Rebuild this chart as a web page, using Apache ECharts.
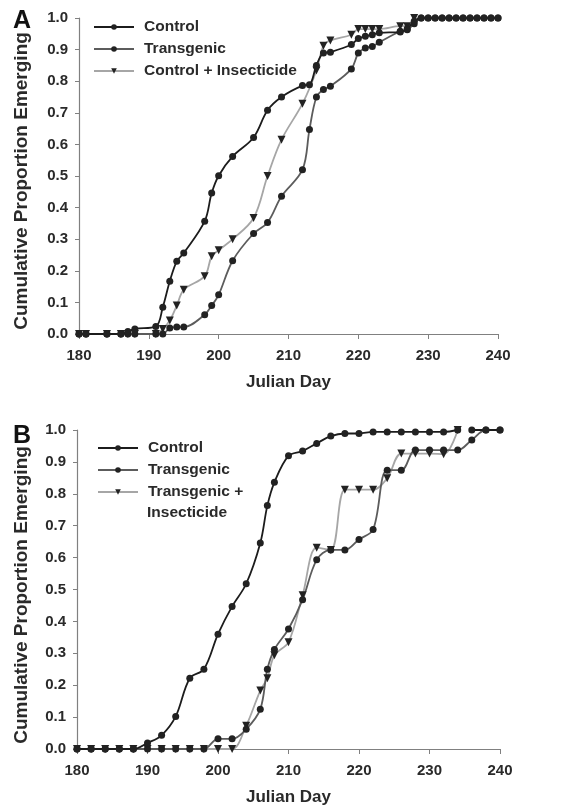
<!DOCTYPE html>
<html>
<head>
<meta charset="utf-8">
<script src="https://cdn.jsdelivr.net/npm/echarts@6/dist/echarts.min.js"></script>
<style>
html,body{margin:0;padding:0;background:#fff;}
#chart{width:561px;height:809px;}
</style>
</head>
<body>
<div id="chart"></div>
<script>
// panel A - field data
var daysA_control = [180,181,184,186,187,188,191,192,193,194,195,198,199,200,202,205,207,209,212,213,214,215,216,219,220,221,222,223,226,227,228,229,230,231,232,233,234,235,236,237,238,239,240];
var valsA_control = [0,0,0,0,0.008,0.016,0.024,0.085,0.167,0.23,0.256,0.357,0.446,0.501,0.562,0.622,0.708,0.75,0.786,0.789,0.85,0.889,0.892,0.916,0.935,0.942,0.947,0.953,0.956,0.966,0.99,1,1,1,1,1,1,1,1,1,1,1,1];
var daysA_trans = [180,181,184,186,187,188,191,192,193,194,195,198,199,200,202,205,207,209,212,213,214,215,216,219,220,221,222,223,226,227,228,229,230,231,232,233,234,235,236,237,238,239,240];
var valsA_trans = [0,0,0,0,0,0,0,0,0.019,0.022,0.022,0.061,0.09,0.124,0.232,0.318,0.353,0.436,0.52,0.647,0.75,0.774,0.784,0.839,0.889,0.905,0.91,0.923,0.958,0.963,0.982,1,1,1,1,1,1,1,1,1,1,1,1];
var daysA_insect = [180,181,184,186,187,188,191,192,193,194,195,198,199,200,202,205,207,209,212,214,215,216,219,220,221,222,223,226,227,228];
var valsA_insect = [0,0,0,0,0,0,0,0.016,0.043,0.09,0.14,0.183,0.246,0.265,0.3,0.367,0.5,0.615,0.729,0.834,0.912,0.929,0.947,0.965,0.965,0.965,0.965,0.974,0.974,1];

// panel B
var daysB_control = [180,182,184,186,188,190,192,194,196,198,200,202,204,206,207,208,210,212,214,216,218,220,222,224,226,228,230,232,234,235,236,238,240];
var valsB_control = [0,0,0,0,0,0.019,0.043,0.102,0.222,0.25,0.36,0.447,0.518,0.646,0.763,0.836,0.919,0.934,0.958,0.981,0.989,0.989,0.994,0.994,0.994,0.994,0.994,0.994,1,null,1,1,1];
var daysB_trans = [180,182,184,186,188,190,192,194,196,198,200,202,204,206,207,208,210,212,214,216,218,220,222,224,226,228,230,232,234,236,238,240];
var valsB_trans = [0,0,0,0,0,0,0,0,0,0,0.032,0.032,0.062,0.125,0.25,0.312,0.376,0.468,0.593,0.624,0.624,0.657,0.688,0.874,0.874,0.937,0.937,0.937,0.937,0.969,1,1];
var daysB_insect = [180,182,184,186,188,190,192,194,196,198,200,202,204,206,207,208,210,212,214,216,218,220,222,224,226,228,230,232,234];
var valsB_insect = [0,0,0,0,0,0,0,0,0,0,0,0,0.073,0.183,0.222,0.294,0.335,0.482,0.631,0.624,0.813,0.813,0.813,0.849,0.926,0.926,0.926,0.924,1];

var FONT = '"Liberation Sans", Arial, sans-serif';
var YNAME = 'Cumulative Proportion Emerging';

function pairs(d, v) {
	var out = [];
	for (var i = 0; i < d.length; i++) {
		out.push([d[i], v[i]]);
	}
	return out;
}

function mkSeries(name, d, v, idx, color, tri) {
	return {
		name: name,
		type: 'line',
		xAxisIndex: idx,
		yAxisIndex: idx,
		data: pairs(d, v),
		smooth: 0.35,
		symbol: tri ? 'triangle' : 'circle',
		symbolRotate: tri ? 180 : 0,
		symbolSize: tri ? 8 : 7,
		showAllSymbol: true,
		connectNulls: false,
		lineStyle: {color: color, width: 1.8},
		itemStyle: {color: '#222', borderWidth: 0},
		emphasis: {disabled: true},
		animation: false
	};
}

function xAx(idx) {
	return {
		type: 'value', gridIndex: idx, min: 180, max: 240, interval: 10,
		name: 'Julian Day', nameLocation: 'middle', nameGap: 40,
		nameTextStyle: {fontFamily: FONT, fontWeight: 'bold', fontSize: 17, color: '#2a2a2a'},
		axisLine: {lineStyle: {color: '#808080', width: 1.2}},
		axisTick: {show: true, inside: false, length: 5, lineStyle: {color: '#808080'}},
		axisLabel: {fontFamily: FONT, fontWeight: 'bold', fontSize: 15, color: '#2a2a2a', margin: 14},
		splitLine: {show: false}
	};
}

function yAx(idx) {
	return {
		type: 'value', gridIndex: idx, min: 0, max: 1, interval: 0.1,
		axisLine: {show: true, lineStyle: {color: '#808080', width: 1.2}},
		axisTick: {show: true, inside: false, length: 4, lineStyle: {color: '#808080'}},
		axisLabel: {fontFamily: FONT, fontWeight: 'bold', fontSize: 15, color: '#2a2a2a', margin: 11,
			formatter: function (v) { return v.toFixed(1); }},
		splitLine: {show: false}
	};
}

function yName(cy) {
	return {
		type: 'text', x: 22, y: cy, rotation: Math.PI / 2,
		style: {text: YNAME, font: 'bold 19px ' + FONT, fill: '#2a2a2a', align: 'center', verticalAlign: 'middle'}
	};
}

var legendText = {fontFamily: FONT, fontWeight: 'bold', fontSize: 15.5, color: '#2a2a2a', padding: [0, 0, 0, 5]};

var chart = echarts.init(document.getElementById('chart'));
var option = {
	backgroundColor: '#fff',
	animation: false,
	title: [
		{text: 'A', left: 8, top: 4, textStyle: {fontFamily: FONT, fontWeight: 'bold', fontSize: 25, color: '#111'}},
		{text: 'B', left: 8, top: 419, textStyle: {fontFamily: FONT, fontWeight: 'bold', fontSize: 25, color: '#111'}}
	],
	grid: [
		{left: 79, right: 63, top: 18, bottom: 475},
		{left: 77, right: 61, top: 430, bottom: 60}
	],
	xAxis: [xAx(0), xAx(1)],
	yAxis: [yAx(0), yAx(1)],
	legend: [
		{
			data: ['Control', 'Transgenic', 'Control + Insecticide'],
			left: 93, top: 19, orient: 'vertical', padding: 0,
			itemWidth: 40, itemHeight: 7, itemGap: 6,
			textStyle: legendText, selectedMode: false
		},
		{
			data: ['Control', 'Transgenic', 'Transgenic + Insecticide'],
			left: 97, top: 440, orient: 'vertical', padding: 0,
			itemWidth: 40, itemHeight: 7, itemGap: 6,
			textStyle: legendText, selectedMode: false,
			formatter: function (n) { return n == 'Transgenic + Insecticide' ? 'Transgenic +' : n; }
		}
	],
	graphic: [
		{type: 'text', left: 147, top: 505, style: {text: 'Insecticide', font: 'bold 15.5px ' + FONT, fill: '#2a2a2a'}},
		yName(181),
		yName(595)
	],
	series: [
		mkSeries('Control + Insecticide', daysA_insect, valsA_insect, 0, '#a6a6a6', true),
		mkSeries('Transgenic', daysA_trans, valsA_trans, 0, '#5c5c5c', false),
		mkSeries('Control', daysA_control, valsA_control, 0, '#1c1c1c', false),
		mkSeries('Transgenic + Insecticide', daysB_insect, valsB_insect, 1, '#a6a6a6', true),
		mkSeries('Transgenic', daysB_trans, valsB_trans, 1, '#5c5c5c', false),
		mkSeries('Control', daysB_control, valsB_control, 1, '#1c1c1c', false)
	]
};
chart.setOption(option);
</script>
</body>
</html>
